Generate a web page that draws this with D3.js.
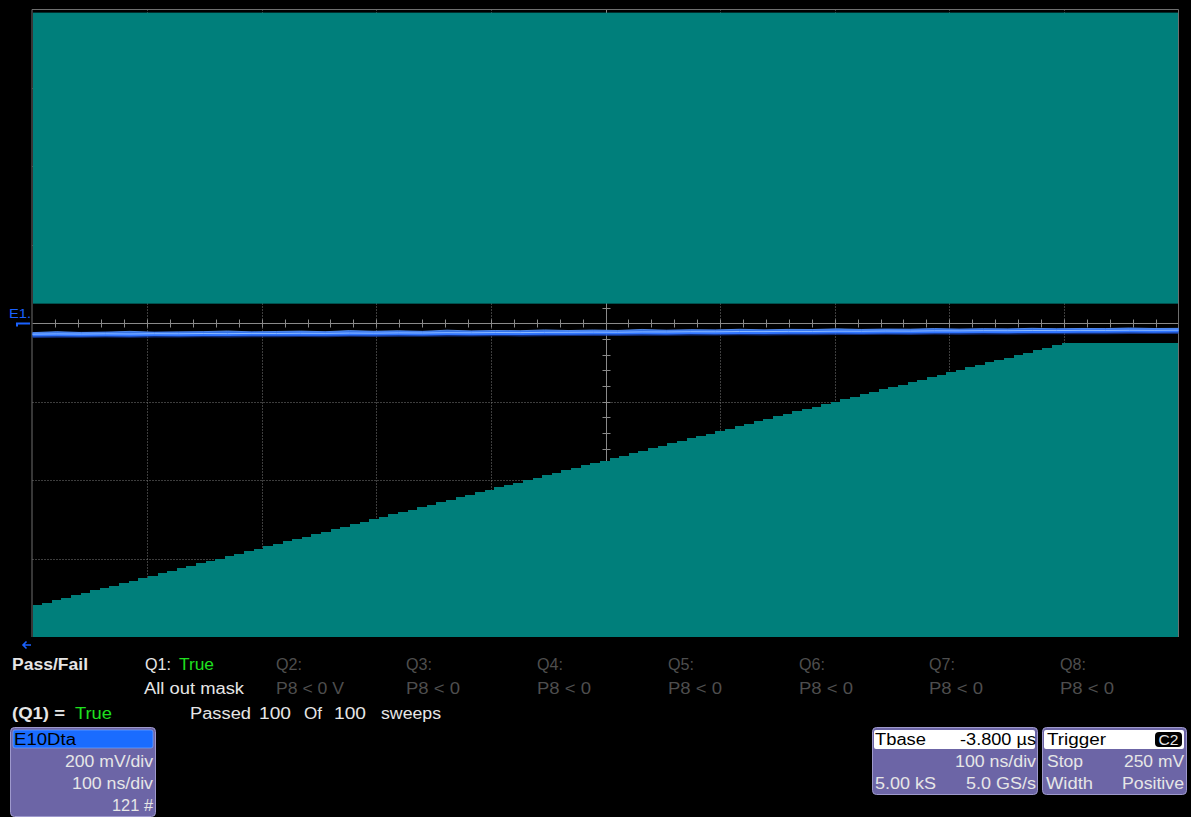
<!DOCTYPE html>
<html>
<head>
<meta charset="utf-8">
<script src="https://cdn.jsdelivr.net/npm/d3@7"></script>
<style>
  html, body { margin: 0; padding: 0; background: #000; }
  svg { display: block; font-family: "Liberation Sans", Arial, sans-serif; }
</style>
</head>
<body>
<svg id="scope" width="1191" height="817"></svg>
<script>
// ---- Acquisition settings ----
const voltsPerDiv = 200;      // mV/div
const timePerDiv = 100;       // ns/div
const hDivs = 10;
const vDivs = 8;

// ---- Mask test limits (mV) ----
const upperMaskLow = 50;      // lower edge of the upper forbidden zone
const upperMaskHigh = 792;
const lowerMaskBottom = -800;
const lowerMaskFlat = -50;    // flat limit after the ramp
const lowerRampEnd = 898;     // ns, where the ramp meets the flat limit
// quantised ramp levels of the lower mask, one per step (mV)
const lowerRampLevels = [
  -718.75, -712.5, -706.25, -700, -693.75, -687.5, -681.25, -675, -668.75, -662.5,
  -656.25, -650, -643.75, -637.5, -631.25, -625, -618.75, -612.5, -606.25, -600,
  -593.75, -587.5, -581.25, -575, -568.75, -562.5, -556.25, -550, -543.75, -537.5,
  -531.25, -525, -518.75, -512.5, -506.25, -500, -493.75, -487.5, -481.25, -475,
  -468.75, -462.5, -456.25, -450, -443.75, -437.5, -431.25, -425, -418.75, -412.5,
  -406.25, -400, -393.75, -387.5, -381.25, -375, -368.75, -362.5, -356.25, -350,
  -343.75, -337.5, -331.25, -325, -318.75, -312.5, -306.25, -300, -293.75, -287.5,
  -281.25, -275, -268.75, -262.5, -256.25, -250, -243.75, -237.5, -231.25, -225,
  -218.75, -212.5, -206.25, -200, -193.75, -187.5, -181.25, -175, -168.75, -162.5,
  -156.25, -150, -143.75, -137.5, -131.25, -125, -118.75, -112.5, -106.25, -100,
  -93.75, -87.5, -81.25, -75, -68.75, -62.5, -56.25
];

// ---- Captured trace E1 (mV), evenly spaced across the record ----
const traceLevels = [
  -29.8, -29.2, -29.6, -29.0, -29.4, -28.7, -28.9, -28.2, -28.6, -27.9, -28.1, -27.5,
  -27.8, -27.0, -27.3, -26.6, -26.9, -26.1, -26.4, -25.7, -25.9, -25.2, -25.0, -24.6,
  -24.9, -24.1, -24.3, -23.6, -23.9, -23.1, -23.3, -22.7, -22.9, -22.2, -22.4, -21.8,
  -22.0, -21.3, -21.5, -20.9, -21.1, -20.5, -20.7, -20.1, -20.3, -19.8, -20.0, -19.6
];
// upper envelope of the persisted sweeps (mV)
const tracePeaks = [
  -24.0, -21.5, -23.8, -22.9, -20.6, -23.2, -22.0, -21.4, -19.7, -22.1, -21.0, -19.9,
  -21.6, -18.8, -20.4, -19.2, -20.9, -17.6, -19.8, -18.5, -19.1, -16.9, -18.6, -17.2,
  -18.4, -15.8, -17.9, -16.5, -17.2, -15.3, -16.9, -15.6, -16.0, -14.2, -15.8, -14.9,
  -15.1, -13.6, -15.0, -13.8, -14.5, -12.9, -14.2, -13.3, -13.6, -12.1, -13.4, -13.0
];

// ---- Pass/fail readout ----
const qLabels = ["Q1:", "Q2:", "Q3:", "Q4:", "Q5:", "Q6:", "Q7:", "Q8:"];
const qConditions = ["All out mask", "P8 < 0 V", "P8 < 0", "P8 < 0", "P8 < 0", "P8 < 0", "P8 < 0", "P8 < 0"];
const sweepsPassed = 100;
const sweepsTotal = 100;

// ---- Colours ----
const teal = "#007f7b";
const gridGray = "#7a7a7a";
const traceBlue = "#2f74ff";
const markerBlue = "#1a62ff";
const textWhite = "#e6e6e6";
const textDim = "#4e4e4e";
const passGreen = "#1fe01f";
const panelFill = "#6c65a6";
const panelStroke = "#9e99cc";

const svg = d3.select("#scope");

const plot = { left: 32.5, right: 1178.5, top: 9.5, bottom: 637 };
const x = d3.scaleLinear().domain([0, hDivs * timePerDiv]).range([plot.left, plot.right]);
const y = d3.scaleLinear().domain([-vDivs / 2 * voltsPerDiv, vDivs / 2 * voltsPerDiv]).range([plot.bottom, plot.top]);

// ---- Graticule (drawn beneath the masks) ----
const grid = svg.append("g");
const vLines = d3.range(1, hDivs).filter(d => d !== hDivs / 2).map(d => d * timePerDiv);
const hLines = d3.range(1, vDivs).filter(d => d !== vDivs / 2).map(d => (d - vDivs / 2) * voltsPerDiv);
grid.selectAll("line.v").data(vLines).join("line")
  .attr("x1", d => Math.round(x(d)) + 0.5).attr("x2", d => Math.round(x(d)) + 0.5)
  .attr("y1", plot.top).attr("y2", plot.bottom)
  .attr("stroke", gridGray).attr("stroke-dasharray", "1,2");
grid.selectAll("line.h").data(hLines).join("line")
  .attr("y1", d => Math.round(y(d)) + 0.5).attr("y2", d => Math.round(y(d)) + 0.5)
  .attr("x1", plot.left).attr("x2", plot.right)
  .attr("stroke", gridGray).attr("stroke-dasharray", "1,2");

// centre axes with minor ticks
const cx = Math.round(x(hDivs * timePerDiv / 2)) + 0.5;
const cy = Math.round(y(0)) + 0.5;
grid.append("line").attr("x1", plot.left).attr("x2", plot.right).attr("y1", cy).attr("y2", cy)
  .attr("stroke", "#8a8a8a");
grid.append("line").attr("x1", cx).attr("x2", cx).attr("y1", plot.top).attr("y2", plot.bottom)
  .attr("stroke", "#8a8a8a");
const xMinor = d3.range(1, hDivs * 5).map(i => i * timePerDiv / 5);
const yMinor = d3.range(1, vDivs * 5).map(i => -vDivs / 2 * voltsPerDiv + i * voltsPerDiv / 5);
grid.selectAll("line.xt").data(xMinor).join("line")
  .attr("x1", d => Math.round(x(d)) + 0.5).attr("x2", d => Math.round(x(d)) + 0.5)
  .attr("y1", cy - 4).attr("y2", cy + 4).attr("stroke", "#8a8a8a");
grid.selectAll("line.yt").data(yMinor).join("line")
  .attr("y1", d => Math.round(y(d)) + 0.5).attr("y2", d => Math.round(y(d)) + 0.5)
  .attr("x1", cx - 4).attr("x2", cx + 4).attr("stroke", "#8a8a8a");

// ---- Masks ----
const masks = svg.append("g");
masks.append("rect")
  .attr("x", plot.left + 0.5).attr("width", plot.right - plot.left - 1)
  .attr("y", y(upperMaskHigh)).attr("height", y(upperMaskLow) - y(upperMaskHigh))
  .attr("fill", teal);

const stepTime = d3.scaleLinear().domain([0, lowerRampLevels.length]).range([0, lowerRampEnd]);
const lowerOutline = [];
lowerRampLevels.forEach((v, i) => {
  lowerOutline.push([stepTime(i), v], [stepTime(i + 1), v]);
});
lowerOutline.push([stepTime(lowerRampLevels.length), lowerMaskFlat], [hDivs * timePerDiv, lowerMaskFlat]);
const lowerPoly = [[0, lowerMaskBottom], ...lowerOutline, [hDivs * timePerDiv, lowerMaskBottom]];
masks.append("path")
  .attr("d", d3.line().x(d => Math.min(Math.max(x(d[0]), plot.left + 0.5), plot.right - 0.5)).y(d => y(d[1]))(lowerPoly) + "Z")
  .attr("fill", teal).attr("shape-rendering", "crispEdges");

// frame: top and side edges
svg.append("path")
  .attr("d", `M${plot.left - 0.5},${plot.bottom} V${plot.top} H${plot.right} V${plot.bottom}`)
  .attr("fill", "none").attr("stroke", "#6e6e6e");

// ---- Trace E1 ----
const traceX = d3.scaleLinear().domain([0, traceLevels.length - 1]).range([0, hDivs * timePerDiv]);
const traceLine = d3.line().x((d, i) => x(traceX(i))).y(d => y(d));
const tr = svg.append("g");
tr.append("path").attr("d", traceLine(traceLevels))
  .attr("fill", "none").attr("stroke", "#1842b0").attr("stroke-width", 6).attr("opacity", 0.7);
tr.append("path").attr("d", d3.area().x((d, i) => x(traceX(i))).y0((d, i) => y(traceLevels[i])).y1(d => y(d))(tracePeaks))
  .attr("fill", "#3f83ff").attr("opacity", 0.8);
tr.append("path").attr("d", traceLine(tracePeaks))
  .attr("fill", "none").attr("stroke", "#5d98ff").attr("stroke-width", 1).attr("opacity", 0.8);
tr.append("path").attr("d", traceLine(traceLevels))
  .attr("fill", "none").attr("stroke", traceBlue).attr("stroke-width", 3.2);
tr.append("path").attr("d", traceLine(traceLevels.map(v => v + 2)))
  .attr("fill", "none").attr("stroke", "#8fbcff").attr("stroke-width", 1);

// ---- Trace marker and label ----
svg.append("text").attr("x", 9).attr("y", 318).attr("font-size", 13).attr("fill", markerBlue)
  .attr("textLength", 22).attr("lengthAdjust", "spacingAndGlyphs").text("E1.");
svg.append("path").attr("d", `M17,${cy + 3} V${cy} H30`)
  .attr("fill", "none").attr("stroke", markerBlue).attr("stroke-width", 2);
svg.append("path").attr("d", "M23,645 H31 M26.5,641.5 L23,645 L26.5,648.5")
  .attr("fill", "none").attr("stroke", markerBlue).attr("stroke-width", 1.6);

// ---- Pass/Fail readout ----
function label(g, xPos, yPos, str, opts = {}) {
  const t = g.append("text").attr("x", xPos).attr("y", yPos)
    .attr("font-size", opts.size || 16).attr("fill", opts.fill || textWhite)
    .attr("font-weight", opts.bold ? "bold" : "normal")
    .attr("text-anchor", opts.anchor || "start").text(str);
  if (opts.width) t.attr("textLength", opts.width).attr("lengthAdjust", "spacingAndGlyphs");
  return t;
}
const info = svg.append("g");
label(info, 12, 670, "Pass/Fail", { bold: true, width: 76 });
const qCol = d3.scaleLinear().domain([0, 7]).range([145, 1060]);
qLabels.forEach((q, i) => {
  const col = Math.round(qCol(i));
  label(info, col, 670, q, { fill: i === 0 ? textWhite : textDim, width: 26 });
  label(info, col - (i === 0 ? 1 : 0), 694, qConditions[i],
    { fill: i === 0 ? textWhite : textDim, width: i === 0 ? 100 : (qConditions[i].length > 6 ? 68 : 54) });
});
label(info, 179, 670, "True", { fill: passGreen, width: 35 });
label(info, 12, 719, "(Q1) =", { bold: true, width: 53 });
label(info, 75, 719, "True", { fill: passGreen, width: 37 });
// sweep counter, laid out word by word as on the instrument
label(info, 190, 719, "Passed", { width: 61 });
label(info, 259, 719, String(sweepsPassed), { width: 32 });
label(info, 304, 719, "Of", { width: 18 });
label(info, 334, 719, String(sweepsTotal), { width: 32 });
label(info, 381, 719, "sweeps", { width: 60 });

// ---- Channel / timebase / trigger panels ----
function panel(x0, y0, w, h) {
  svg.append("rect").attr("x", x0 + 0.5).attr("y", y0 + 0.5).attr("width", w).attr("height", h)
    .attr("rx", 4).attr("fill", panelFill).attr("stroke", panelStroke);
}
panel(10, 727, 145, 89);
svg.append("rect").attr("x", 13).attr("y", 730).attr("width", 140).attr("height", 18)
  .attr("rx", 2).attr("fill", "#1a6cff").attr("stroke", "#7fb0ff").attr("stroke-width", 0.6);
label(svg, 14, 745, "E10Dta", { fill: "#000", width: 62 });
label(svg, 153, 767, `${voltsPerDiv} mV/div`, { anchor: "end", width: 88 });
label(svg, 153, 789, `${timePerDiv} ns/div`, { anchor: "end", width: 81 });
label(svg, 153, 811, "121 #", { anchor: "end", width: 41 });

panel(872, 727, 165, 67);
svg.append("rect").attr("x", 874).attr("y", 730).attr("width", 161).attr("height", 19)
  .attr("rx", 2).attr("fill", "#fff");
label(svg, 875, 745, "Tbase", { fill: "#000", width: 51 });
label(svg, 1036, 745, "-3.800 µs", { fill: "#000", anchor: "end", width: 76 });
label(svg, 1036, 767, `${timePerDiv} ns/div`, { anchor: "end", width: 81 });
label(svg, 875, 789, "5.00 kS", { width: 61 });
label(svg, 1036, 789, "5.0 GS/s", { anchor: "end", width: 70 });

panel(1042, 727, 144, 67);
svg.append("rect").attr("x", 1044).attr("y", 730).attr("width", 140).attr("height", 19)
  .attr("rx", 2).attr("fill", "#fff");
label(svg, 1047, 745, "Trigger", { fill: "#000", width: 59 });
svg.append("rect").attr("x", 1155).attr("y", 732).attr("width", 27).attr("height", 15)
  .attr("rx", 4).attr("fill", "#000");
label(svg, 1168.5, 745, "C2", { anchor: "middle", size: 14, width: 20 });
label(svg, 1047, 767, "Stop", { width: 36 });
label(svg, 1184, 767, "250 mV", { anchor: "end", width: 60 });
label(svg, 1046, 789, "Width", { width: 47 });
label(svg, 1184, 789, "Positive", { anchor: "end", width: 62 });
</script>
</body>
</html>
